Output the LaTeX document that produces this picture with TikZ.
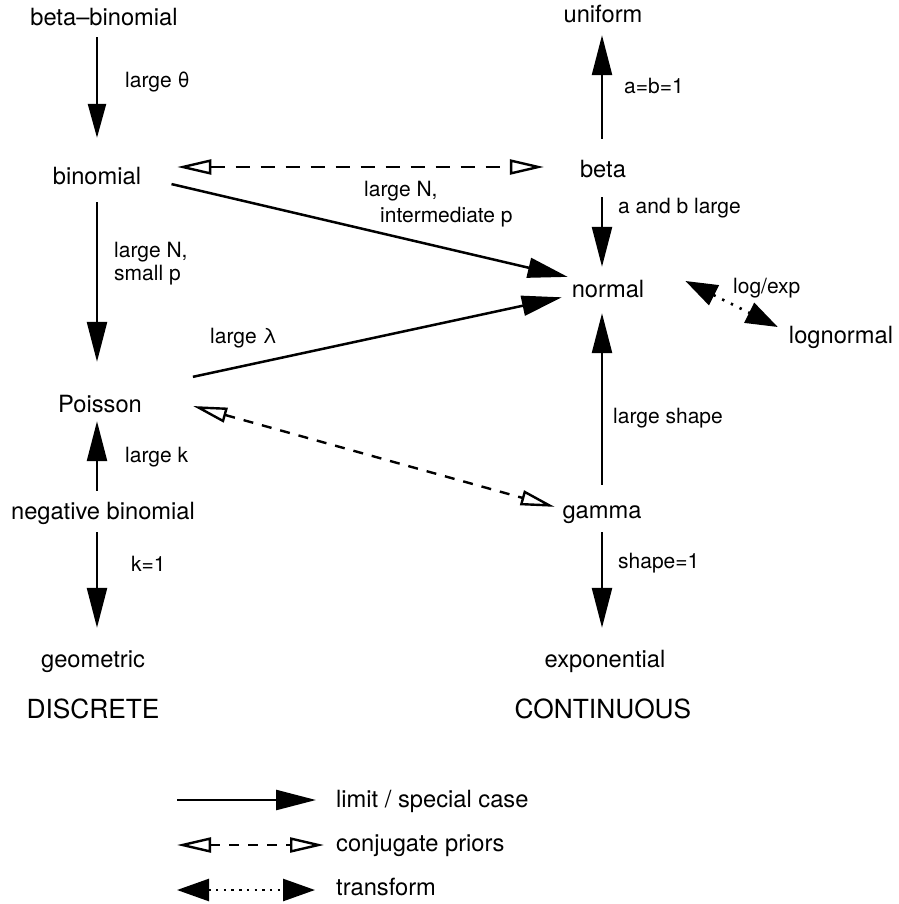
\documentclass[tikz,border=0pt]{standalone}
\usepackage{fontspec}
\setmainfont{TeX Gyre Heros}
\usetikzlibrary{arrows.meta}

\newcommand{\distfont}{\fontsize{23.7pt}{28pt}\selectfont}
\newcommand{\lblfont}{\fontsize{21pt}{23pt}\selectfont}
\newcommand{\catfont}{\fontsize{26.3pt}{30pt}\selectfont}

\begin{document}
\begin{tikzpicture}[x=1pt, y=-1pt,
    dist/.style={font=\distfont, inner sep=0pt, text height=17pt, text depth=5pt, anchor=base},
    cat/.style={font=\catfont, inner sep=0pt, anchor=base},
    lbl/.style={font=\lblfont, inner sep=0pt, anchor=base west, align=left},
    limit/.style={line width=2.5pt, -{Triangle[length=40pt,width=20pt]}},
    conj/.style={line width=2.4pt, dash pattern=on 10pt off 9pt, {Triangle[open,length=34pt,width=15pt]}-{Triangle[open,length=34pt,width=15pt]}},
    trans/.style={line width=2.6pt, dash pattern=on 2.4pt off 5.3pt, {Triangle[length=32pt,width=22pt]}-{Triangle[length=32pt,width=22pt]}}]
    \useasboundingbox (0,0) rectangle (898,904);
    \coordinate (colL) at (97,0);
    \coordinate (colR) at (602,0);

    % discrete side
    \node[dist] (bb) at (104,26) {beta–binomial};
    \node[dist] (bin) at (97,185) {binomial};
    \node[dist] (poi) at (100,412) {Poisson};
    \node[dist] (nb) at (103,519) {negative binomial};
    \node[dist] (geo) at (93,667) {geometric};
    \node[cat] (disc) at (93,718) {DISCRETE};

    % continuous side
    \node[dist] (uni) at (603,23) {uniform};
    \node[dist] (beta) at (603,178) {beta};
    \node[dist] (norm) at (608,297) {normal};
    \node[dist] (logn) at (841,343) {lognormal};
    \node[dist] (gam) at (602,518) {gamma};
    \node[dist] (expo) at (605,667) {exponential};
    \node[cat] (cont) at (603,718) {CONTINUOUS};

    % edge labels
    \node[lbl] (lbb) at (125,88) {large θ};
    \node[lbl] (lbin) at (114,280) {large N,\\small p};
    \node[lbl] (lpoi) at (210,343) {large λ};
    \node[lbl] (lnb) at (125,462) {large k};
    \node[lbl] (lgeo) at (131,571) {k=1};
    \node[lbl] (luni) at (624,94) {a=b=1};
    \node[lbl] (lbeta) at (618,213) {a and b large};
    \node[lbl] (lbinn) at (364,222) {large N,\\[2pt]\hspace*{16pt}intermediate p};
    \node[lbl] (lgam) at (613,423) {large shape};
    \node[lbl] (lexpo) at (618,568) {shape=1};
    \node[lbl] (llog) at (733,293) {log/exp};

    \draw[line width=2.5pt, -{Triangle[length=34pt,width=18pt]}, shorten <=6pt, shorten >=30pt] (bb.south -| colL) -- (bin.north -| colL);
    \draw[limit, shorten <=12pt, shorten >=33pt] (bin.south -| colL) -- (poi.north -| colL);
    \draw[limit, shorten <=11pt, shorten >=4pt] (nb.north -| colL) -- (poi.south -| colL);
    \draw[limit, shorten <=8pt, shorten >=22pt] (nb.south -| colL) -- (geo.north -| colL);
    \draw[limit, shorten <=22pt, shorten >=7pt] (beta.north -| colR) -- (uni.south -| colR);
    \draw[limit, shorten <=14pt, shorten >=13pt] (beta.south -| colR) -- (norm.north -| colR);
    \draw[limit, shorten <=16pt, shorten >=11pt] (gam.north -| colR) -- (norm.south -| colR);
    \draw[limit, shorten <=9pt, shorten >=22pt] (gam.south -| colR) -- (expo.north -| colR);
    \draw[limit, shorten <=31pt, shorten >=4pt] ([yshift=2pt]bin.east) -- ([yshift=2pt]norm.north west);
    \draw[limit, shorten <=52pt, shorten >=10pt] ([yshift=7pt]poi.north east) -- ([yshift=7pt]norm.south west);
    \draw[conj, dash pattern=on 14pt off 11pt, shorten <=36pt, shorten >=36pt] ([yshift=12pt]bin.east) -- ([yshift=12pt]bin.east -| beta.west);
    \draw[conj, shorten <=53pt, shorten >=8pt] ([yshift=3pt]poi.north east) -- ([yshift=3pt]gam.west);
    \draw[trans, dash pattern=on 2.4pt off 7.3pt] ([xshift=41pt,yshift=10pt]norm.east) -- ([xshift=-11pt,yshift=10pt]logn.west);

    % legend
    \coordinate (k1) at (177,800);
    \coordinate (k2) at (177,845);
    \coordinate (k3) at (177,890);
    \node[dist, anchor=base west] (t1) at (336,807) {limit / special case};
    \node[dist, anchor=base west] (t2) at (336,851) {conjugate priors};
    \node[dist, anchor=base west] (t3) at (336,895) {transform};
    \draw[limit, shorten >=20pt] (k1) -- (k1 -| t1.west);
    \draw[conj, shorten >=12pt] (k2) -- (k2 -| t2.west);
    \draw[trans, shorten >=21pt] (k3) -- (k3 -| t3.west);
\end{tikzpicture}
\end{document}
